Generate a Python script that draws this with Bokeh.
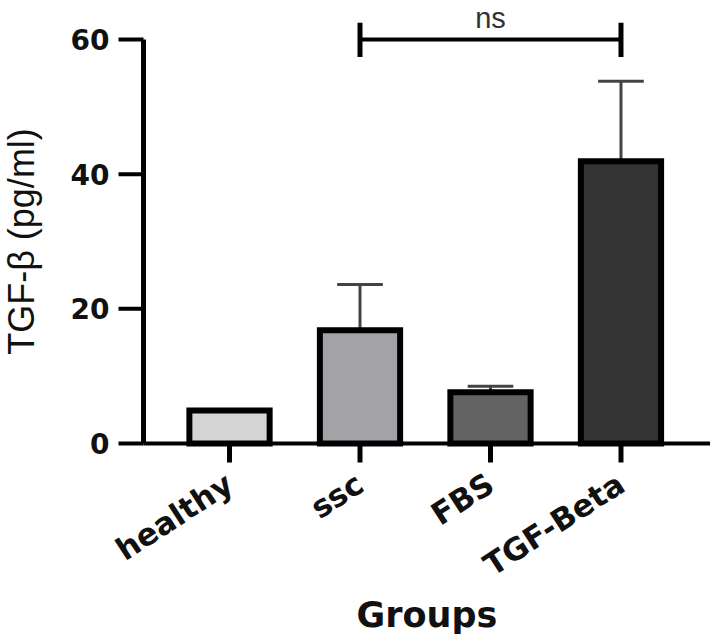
import math
from bokeh.plotting import figure
from bokeh.models import Range1d, ColumnDataSource
from bokeh.core.properties import value
from bokeh.embed import file_html
from bokeh.resources import INLINE

# ---- data ----
groups = ["healthy", "ssc", "FBS", "TGF-Beta"]
means = [4.9, 16.8, 7.6, 41.9]
sd_up = [0.0, 6.8, 0.9, 11.9]
bar_colors = ["#d4d4d4", "#a3a2a7", "#636363", "#333333"]
y_ticks = [0, 20, 40, 60]
y_tick_labels = ["0", "20", "40", "60"]
comparison = ["ssc", "TGF-Beta"]
comparison_label = "ns"
comparison_level = 60
x_title = "Groups"
y_title = "TGF-β (pg/ml)"

# ---- layout / style constants (data units of the two scales) ----
SANS = "Liberation Sans"
WIDE = "DejaVu Sans"
idx = list(range(len(groups)))
X0, X1 = -1.755, 3.686          # whole canvas width
Y0, Y1 = -28.96, 65.79          # whole canvas height
AXIS_X = -0.659                 # position of the value axis
Y_TICK_LEN = 0.1916
Y_LABEL_X = -0.9195
Y_TITLE_X = -1.594
BAR_W = 0.615
CAP_W = 0.35
X_TICK_LEN = 2.82
LABEL_Y = -5.5
LABEL_ANGLE = 0.576
X_TITLE_Y = -25.53
NS_Y = 63.12
INK = "#111111"

p = figure(width=710, height=638, output_backend="svg", toolbar_location=None,
           x_range=Range1d(X0, X1), y_range=Range1d(Y0, Y1),
           min_border_left=0, min_border_right=0, min_border_top=0,
           min_border_bottom=0, x_axis_type=None, y_axis_type=None)
p.outline_line_color = None
p.background_fill_color = "white"
p.border_fill_color = "white"
p.xgrid.visible = False
p.ygrid.visible = False

# error bars (behind bars, upper side only)
tops = [m + s for m, s in zip(means, sd_up)]
src_err = ColumnDataSource(dict(x=idx, y0=means, y1=tops,
                                cx0=[i - CAP_W / 2 for i in idx],
                                cx1=[i + CAP_W / 2 for i in idx]))
p.segment(x0="x", y0="y0", x1="x", y1="y1", source=src_err,
          line_color="#444444", line_width=3)
p.segment(x0="cx0", y0="y1", x1="cx1", y1="y1", source=src_err,
          line_color="#444444", line_width=3)

# bars
src = ColumnDataSource(dict(x=idx, top=means, color=bar_colors))
p.vbar(x="x", top="top", width=BAR_W, bottom=0, source=src,
       fill_color="color", line_color="black", line_width=6, line_join="miter")

# ---- category axis ----
p.segment(x0=[AXIS_X], y0=[0], x1=[X1], y1=[0], line_color="black", line_width=4)
p.segment(x0=idx, y0=[0] * len(idx), x1=idx, y1=[-X_TICK_LEN] * len(idx),
          line_color="black", line_width=5)
src_lab = ColumnDataSource(dict(x=idx, y=[LABEL_Y] * len(idx), text=groups))
p.text(x="x", y="y", text="text", source=src_lab, angle=LABEL_ANGLE,
       text_align="right", text_baseline="middle", text_font=value(WIDE),
       text_font_style="bold", text_font_size="31px", text_color=INK)
p.text(x=[(AXIS_X + X1) / 2], y=[X_TITLE_Y], text=[x_title],
       text_align="center", text_baseline="middle", text_font=value(WIDE),
       text_font_style="bold", text_font_size="35px", text_color=INK)

# ---- value axis ----
p.segment(x0=[AXIS_X], y0=[min(y_ticks)], x1=[AXIS_X], y1=[max(y_ticks)],
          line_color="black", line_width=5)
p.segment(x0=[AXIS_X - Y_TICK_LEN] * len(y_ticks), y0=y_ticks,
          x1=[AXIS_X] * len(y_ticks), y1=y_ticks,
          line_color="black", line_width=4)
src_yl = ColumnDataSource(dict(x=[Y_LABEL_X] * len(y_ticks), y=y_ticks,
                               text=y_tick_labels))
p.text(x="x", y="y", text="text", source=src_yl, text_align="right",
       text_baseline="middle", text_font=value(WIDE), text_font_style="bold",
       text_font_size="28px", text_color=INK)
p.text(x=[Y_TITLE_X], y=[(min(y_ticks) + max(y_ticks)) / 2], text=[y_title],
       angle=math.pi / 2, text_align="center", text_baseline="middle",
       text_font=value(SANS), text_font_size="36px", text_color=INK)

# ---- significance bracket ----
i0 = groups.index(comparison[0])
i1 = groups.index(comparison[1])
p.segment(x0=[i0], y0=[comparison_level], x1=[i1], y1=[comparison_level],
          line_color="black", line_width=4)
p.segment(x0=[i0, i1], y0=[comparison_level - 2.6] * 2,
          x1=[i0, i1], y1=[comparison_level + 2.5] * 2,
          line_color="black", line_width=5)
p.text(x=[(i0 + i1) / 2], y=[NS_Y], text=[comparison_label],
       text_align="center", text_baseline="middle", text_font=value(SANS),
       text_font_size="29px", text_color="#333333")

open("out.html", "w").write(file_html(p, INLINE))
